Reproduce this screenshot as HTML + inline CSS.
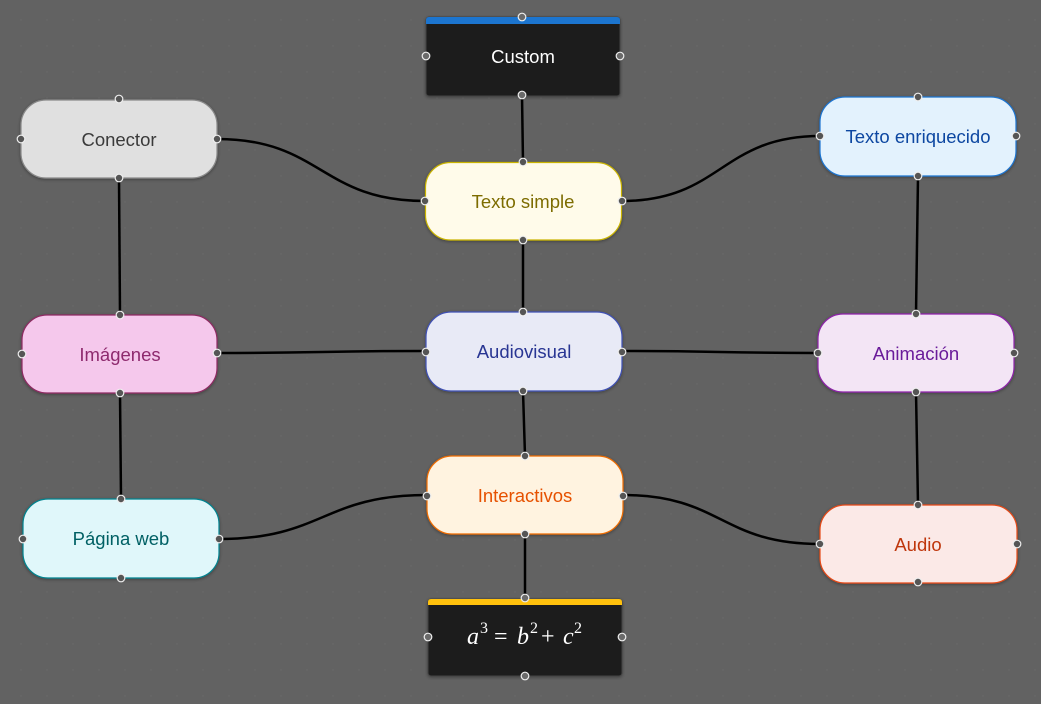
<!DOCTYPE html>
<html><head><meta charset="utf-8"><style>
html,body{margin:0;padding:0;background:#626262;}
svg{display:block;}
text{font-family:"Liberation Sans",Arial,sans-serif;}
</style></head><body>
<svg width="1041" height="704" viewBox="0 0 1041 704" xmlns="http://www.w3.org/2000/svg">
<defs>
<pattern id="dots" x="0" y="0" width="26" height="26" patternUnits="userSpaceOnUse">
<circle cx="21" cy="20" r="0.7" fill="#6a6a6a"/>
</pattern>
<filter id="sh" x="-10%" y="-10%" width="120%" height="130%">
<feDropShadow dx="0" dy="1" stdDeviation="1.5" flood-color="#000" flood-opacity="0.35"/>
</filter>
</defs>
<rect width="1041" height="704" fill="#626262"/>
<rect width="1041" height="704" fill="url(#dots)"/>

<!-- edges -->
<g fill="none" stroke="#000" stroke-width="2.5">
<path d="M522,95 L523,162"/>
<path d="M217,139 C321,139 321,201 425,201"/>
<path d="M622,201 C721,201 721,136 820,136"/>
<path d="M119,178 L120,315"/>
<path d="M918,176 L916,314"/>
<path d="M523,240 L523,312"/>
<path d="M217,353 C321,353 322,351 426,351"/>
<path d="M622,351 C720,351 720,353 818,353"/>
<path d="M120,393 L121,499"/>
<path d="M916,392 L918,505"/>
<path d="M523,391 L525,456"/>
<path d="M219,539 C323,539 323,495 427,495"/>
<path d="M623,495 C721,495 721,544 820,544"/>
<path d="M525,534 L525,598"/>
</g>

<!-- nodes -->
<g filter="url(#sh)">
<rect x="426" y="17" width="194" height="79" rx="3" fill="#1e1e1e" stroke="#444" stroke-width="1"/>
<path d="M426,24 L426,20 Q426,17 429,17 L617,17 Q620,17 620,20 L620,24 Z" fill="#1f74cf"/>
<rect x="428" y="599" width="194" height="77" rx="3" fill="#1e1e1e" stroke="#444" stroke-width="1"/>
<path d="M428,605 L428,602 Q428,599 431,599 L619,599 Q622,599 622,602 L622,605 Z" fill="#ffc107"/>

<rect x="21" y="100" width="196" height="78" rx="25" fill="#e0e0e0" stroke="#8a8a8a" stroke-width="1.2"/>
<rect x="425.5" y="162.5" width="196" height="77.5" rx="25" fill="#fffbea" stroke="#c9b300" stroke-width="1.2"/>
<rect x="820" y="97" width="196" height="79" rx="25" fill="#e3f2fd" stroke="#1e74d0" stroke-width="1.2"/>
<rect x="22" y="315" width="195" height="78" rx="25" fill="#f5c8ec" stroke="#8e2a62" stroke-width="1.2"/>
<rect x="426" y="312" width="196" height="79" rx="25" fill="#e8eaf6" stroke="#3f51b5" stroke-width="1.2"/>
<rect x="818" y="314" width="196" height="78" rx="25" fill="#f3e5f5" stroke="#8e24aa" stroke-width="1.2"/>
<rect x="23" y="499" width="196" height="79" rx="25" fill="#e0f7fa" stroke="#00838f" stroke-width="1.2"/>
<rect x="427" y="456" width="196" height="78" rx="25" fill="#fff3e0" stroke="#ef6c00" stroke-width="1.2"/>
<rect x="820" y="505" width="197" height="78" rx="25" fill="#fbe9e7" stroke="#e64a19" stroke-width="1.2"/>
</g>

<!-- labels -->
<g font-size="18.5" text-anchor="middle">
<text x="523" y="63" fill="#ffffff">Custom</text>
<text x="119" y="146" fill="#3a3a3a">Conector</text>
<text x="523" y="208" fill="#7d6c00">Texto simple</text>
<text x="918" y="143" fill="#0d47a1">Texto enriquecido</text>
<text x="120" y="361" fill="#8e2a6e">Imágenes</text>
<text x="524" y="358" fill="#283593">Audiovisual</text>
<text x="916" y="360" fill="#6a1b9a">Animación</text>
<text x="121" y="545" fill="#006064">Página web</text>
<text x="525" y="502" fill="#e65100">Interactivos</text>
<text x="918" y="551" fill="#bf360c">Audio</text>
</g>
<g fill="#ffffff">
<text x="467" y="644" font-size="24" font-style="italic" style="font-family:'Liberation Serif',serif">a</text>
<text x="480" y="633" font-size="16" style="font-family:'Liberation Serif',serif">3</text>
<text x="494" y="644" font-size="24" style="font-family:'Liberation Serif',serif">=</text>
<text x="517" y="644" font-size="24" font-style="italic" style="font-family:'Liberation Serif',serif">b</text>
<text x="530" y="633" font-size="16" style="font-family:'Liberation Serif',serif">2</text>
<text x="541" y="644" font-size="24" style="font-family:'Liberation Serif',serif">+</text>
<text x="563" y="644" font-size="24" font-style="italic" style="font-family:'Liberation Serif',serif">c</text>
<text x="574" y="633" font-size="16" style="font-family:'Liberation Serif',serif">2</text>
</g>

<!-- handles -->
<g stroke="#eeeeee" stroke-width="1.2">
<g fill="#6a6a6a">
<circle cx="522" cy="17" r="3.8"/><circle cx="426" cy="56" r="3.8"/><circle cx="620" cy="56" r="3.8"/><circle cx="522" cy="95" r="3.8"/>
<circle cx="525" cy="598" r="3.8"/><circle cx="428" cy="637" r="3.8"/><circle cx="622" cy="637" r="3.8"/><circle cx="525" cy="676" r="3.8"/>
</g>
<g fill="#555555">
<circle cx="523" cy="162" r="3.8"/><circle cx="425" cy="201" r="3.8"/><circle cx="622" cy="201" r="3.8"/><circle cx="523" cy="240" r="3.8"/>
<circle cx="119" cy="99" r="3.8"/><circle cx="21" cy="139" r="3.8"/><circle cx="217" cy="139" r="3.8"/><circle cx="119" cy="178" r="3.8"/>
<circle cx="918" cy="97" r="3.8"/><circle cx="820" cy="136" r="3.8"/><circle cx="1016" cy="136" r="3.8"/><circle cx="918" cy="176" r="3.8"/>
<circle cx="120" cy="315" r="3.8"/><circle cx="22" cy="354" r="3.8"/><circle cx="217" cy="353" r="3.8"/><circle cx="120" cy="393" r="3.8"/>
<circle cx="523" cy="312" r="3.8"/><circle cx="426" cy="352" r="3.8"/><circle cx="622" cy="352" r="3.8"/><circle cx="523" cy="391" r="3.8"/>
<circle cx="916" cy="314" r="3.8"/><circle cx="818" cy="353" r="3.8"/><circle cx="1014" cy="353" r="3.8"/><circle cx="916" cy="392" r="3.8"/>
<circle cx="121" cy="499" r="3.8"/><circle cx="23" cy="539" r="3.8"/><circle cx="219" cy="539" r="3.8"/><circle cx="121" cy="578" r="3.8"/>
<circle cx="525" cy="456" r="3.8"/><circle cx="427" cy="496" r="3.8"/><circle cx="623" cy="496" r="3.8"/><circle cx="525" cy="534" r="3.8"/>
<circle cx="918" cy="505" r="3.8"/><circle cx="820" cy="544" r="3.8"/><circle cx="1017" cy="544" r="3.8"/><circle cx="918" cy="582" r="3.8"/>
</g>
</g>
</svg>
</body></html>
